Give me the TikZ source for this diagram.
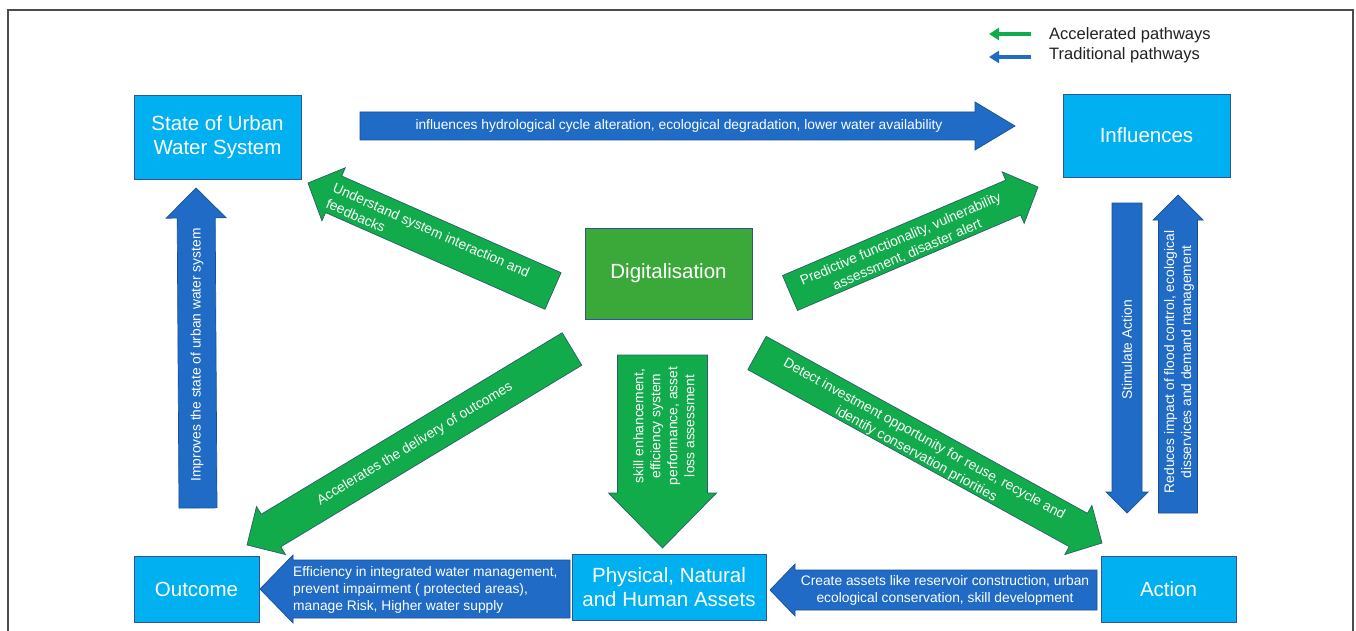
\documentclass[tikz,border=0pt]{standalone}
\usepackage{fontspec}
\setmainfont{Liberation Sans}
\usetikzlibrary{calc,arrows.meta}
\definecolor{lblue}{HTML}{00B0F0}
\definecolor{boxedge}{HTML}{2F5597}
\definecolor{dblue}{HTML}{1F6BC5}
\definecolor{dblueedge}{HTML}{1A4F96}
\definecolor{agreen}{HTML}{12AB4B}
\definecolor{dgreen}{HTML}{3BA93A}
\definecolor{gedge}{HTML}{2A5E6A}
\definecolor{legtext}{HTML}{222222}
\newcommand{\blockarr}[6]{%
  \coordinate (#2b) at ($(#2)!#5!(#1)$);
  \path[#6] ($(#1)!#3!90:(#2)$) -- ($(#2b)!#3!-90:(#1)$) -- ($(#2b)!#4!-90:(#1)$) -- (#2) -- ($(#2b)!#4!90:(#1)$) -- ($(#2b)!#3!90:(#1)$) -- ($(#1)!#3!-90:(#2)$) -- cycle;}
\tikzset{
  lbox/.style={draw=boxedge, fill=lblue, line width=0.8pt, text=white, align=center, font=\fontsize{20.5}{24}\selectfont, inner sep=0pt},
  gbox/.style={draw=boxedge, fill=dgreen, line width=0.8pt, text=white, align=center, font=\fontsize{20.5}{24}\selectfont, inner sep=0pt},
  barr/.style={fill=dblue, draw=dblueedge, line width=0.7pt},
  garr/.style={fill=agreen, draw=gedge, line width=0.7pt},
  atext/.style={text=white, font=\fontsize{13.8}{17}\selectfont, inner sep=0pt},
  legarrow/.style={line width=3.5pt, -{Triangle[length=10pt,width=12pt]}},
  legtxt/.style={text=legtext, font=\fontsize{16.5}{19}\selectfont, anchor=west, inner sep=0pt},
}
\begin{document}
\begin{tikzpicture}[x=1pt,y=-1pt]
\useasboundingbox (0,0) rectangle (1356,631);
\fill[white] (0,0) rectangle (1356,631);
% frame
\draw[gray!60!black, line width=1.5pt] (8,631) -- (8,10) -- (1353,10) -- (1353,631);

% legend
\coordinate (lg1) at (1031,34); \coordinate (lg1t) at (989,34);
\coordinate (lg2) at (1031,57); \coordinate (lg2t) at (989,57);
\draw[legarrow, agreen] (lg1) -- (lg1t);
\draw[legarrow, dblue] (lg2) -- (lg2t);
\node[legtxt] (lgA) at (1049,35) {Accelerated pathways};
\node[legtxt] (lgT) at (1049,55) {Traditional pathways};

% boxes
\node[lbox, minimum width=167pt, minimum height=84pt] (state) at (217.5,137) {State of Urban\\Water System};
\node[lbox, minimum width=167pt, minimum height=83pt] (infl) at (1146.5,135.5) {Influences};
\node[gbox, minimum width=167pt, minimum height=91pt] (digit) at (668.5,273.5) {Digitalisation};
\node[lbox, minimum width=125pt, minimum height=66pt] (outc) at (196.5,589) {Outcome};
\node[lbox, minimum width=194pt, minimum height=66pt] (phys) at (669,587) {Physical, Natural\\and Human Assets};
\node[lbox, minimum width=135pt, minimum height=66pt] (act) at (1168.5,589) {Action};

% blue arrows
\coordinate (b1s) at (360,126); \coordinate (b1e) at (1015,126);
\blockarr{b1s}{b1e}{14pt}{24pt}{40pt}{barr}
\coordinate (b2s) at (198,508); \coordinate (b2e) at (196,188);
\blockarr{b2s}{b2e}{19pt}{30pt}{30pt}{barr}
\coordinate (b3s) at (1127,203); \coordinate (b3e) at (1127,513);
\blockarr{b3s}{b3e}{15pt}{21pt}{21pt}{barr}
\coordinate (b4s) at (1178,513); \coordinate (b4e) at (1178,195);
\blockarr{b4s}{b4e}{19.5pt}{25pt}{25pt}{barr}
\coordinate (b5s) at (570,589); \coordinate (b5e) at (260,589);
\blockarr{b5s}{b5e}{29pt}{34pt}{33pt}{barr}
\coordinate (b6s) at (1097,590); \coordinate (b6e) at (770,590);
\blockarr{b6s}{b6e}{20pt}{26pt}{25pt}{barr}

% green arrows
\coordinate (a1s) at (553,291); \coordinate (a1e) at (308,183);
\blockarr{a1s}{a1e}{20pt}{29pt}{28pt}{garr}
\coordinate (a2s) at (790,293); \coordinate (a2e) at (1038,187);
\blockarr{a2s}{a2e}{19pt}{28pt}{27pt}{garr}
\coordinate (a3s) at (572,349); \coordinate (a3e) at (247,545);
\blockarr{a3s}{a3e}{19pt}{28pt}{28pt}{garr}
\coordinate (a4s) at (757,353); \coordinate (a4e) at (1102,543);
\blockarr{a4s}{a4e}{19pt}{28pt}{27pt}{garr}
\coordinate (a5s) at (662.5,355); \coordinate (a5e) at (662.5,548);
\blockarr{a5s}{a5e}{45pt}{54pt}{55pt}{garr}

% arrow texts
\node[atext] (tb1) at (679,126) {influences hydrological cycle alteration, ecological degradation, lower water availability};
\node[atext, rotate=90] (tb2) at (197,355) {Improves the state of urban water system};
\node[atext, rotate=90] (tb3) at (1127,350) {Stimulate Action};
\node[atext, rotate=90, align=center] (tb4) at (1179,362) {Reduces impact of flood control, ecological\\disservices and demand management};
\node[atext, align=left, anchor=west] (tb5) at (293,590) {Efficiency in integrated water management,\\prevent impairment ( protected areas),\\manage Risk, Higher water supply};
\node[atext, align=center] (tb6) at (945,590) {Create assets like reservoir construction, urban\\ecological conservation, skill development};

\node[atext, align=left, rotate=-23.8] (ta1) at (428,238) {Understand system interaction and\\feedbacks};
\node[atext, align=center, rotate=23.1] (ta2) at (904,247) {Predictive functionality, vulnerability\\assessment, disaster alert};
\node[atext, rotate=31.1] (ta3) at (415,444) {Accelerates the delivery of outcomes};
\node[atext, align=center, rotate=-28.8] (ta4) at (920,447) {Detect investment opportunity for reuse, recycle and\\identify conservation priorities};
\node[atext, align=center, rotate=90] (ta5) at (664,426) {skill enhancement,\\efficiency system\\performance, asset\\loss assessment};
\end{tikzpicture}
\end{document}
